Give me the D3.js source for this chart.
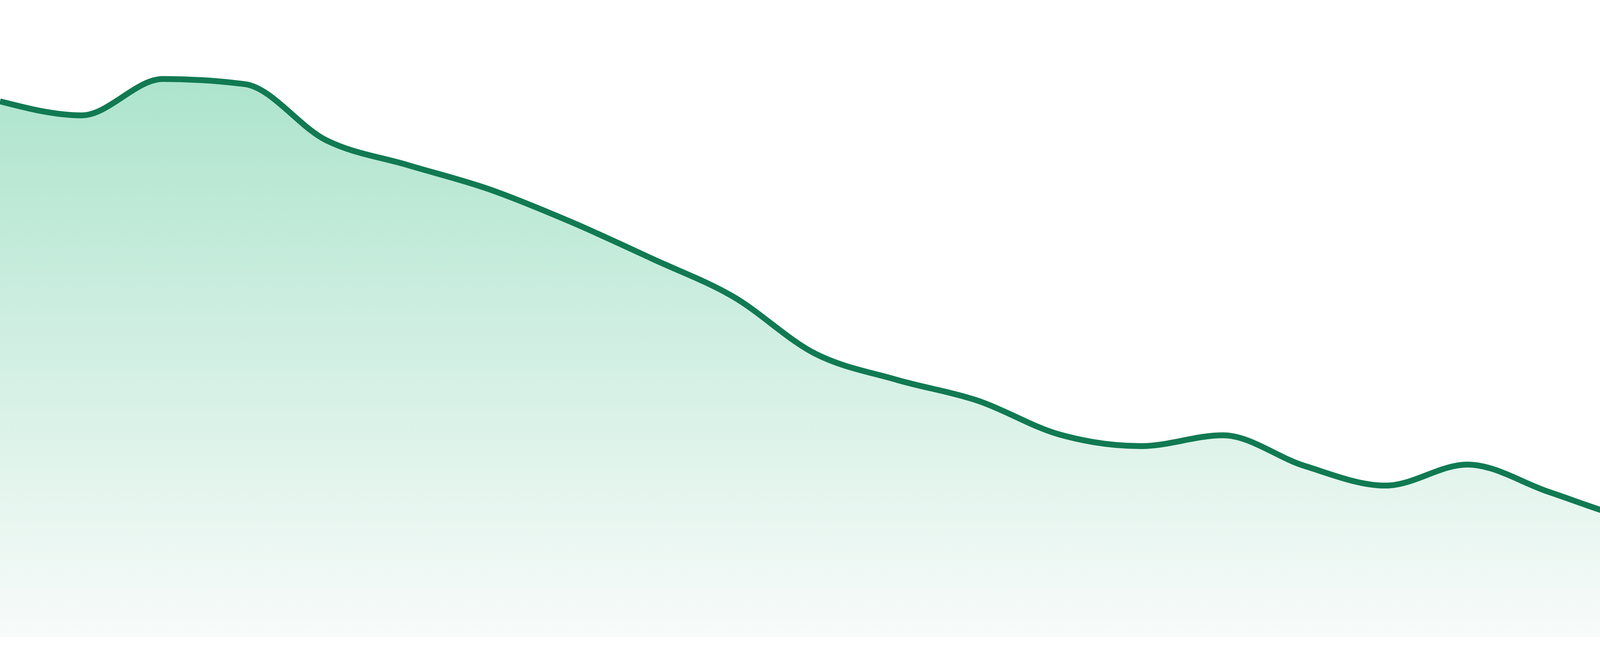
<!DOCTYPE html>
<html>
<head>
    <meta http-equiv="Content-Type" content="text/html;charset=utf-8">
    <title>Area trend</title>
    <script type="text/javascript" src="https://d3js.org/d3.v7.min.js"></script>
    <style>
        html, body {
            margin: 0;
            padding: 0;
            background: #ffffff;
            overflow: hidden;
        }

        path.line {
            fill: none;
            stroke: #117a52;
            stroke-width: 15px;
            stroke-linejoin: round;
        }
    </style>
</head>
<body>

<script type="text/javascript">

    // one point per period, left to right
    var periods = ["01", "02", "03", "04", "05", "06", "07", "08", "09", "10", "11", "12",
                   "13", "14", "15", "16", "17", "18", "19", "20", "21", "22", "23", "24"];

    var values = [84.1, 81.9, 87.6, 86.8, 78.0, 74.1, 70.3, 65.2, 59.4, 53.4, 44.5, 40.4,
                  37.1, 31.8, 30.0, 31.7, 26.9, 23.8, 27.1, 22.8, 18.5, 15.7, 17.5, 13.6];

    var width = 4800,
        height = 1680,
        bottomGap = 48;   // white strip under the filled area

    var rows = periods.map(function(p, i) { return {period: p, value: values[i]}; });

    var x = d3.scalePoint()
        .domain(periods)
        .range([0, width]);

    var y = d3.scaleLinear()
        .domain([0, 100])
        .range([height - bottomGap, 0]);

    var svg = d3.select("body").append("svg")
        .attr("width", width)
        .attr("height", height);

    // vertical fade under the line
    var grad = svg.append("defs").append("linearGradient")
        .attr("id", "fade")
        .attr("x1", 0).attr("y1", 0)
        .attr("x2", 0).attr("y2", 1);
    grad.append("stop").attr("offset", "0%").attr("stop-color", "#ade4cd");
    grad.append("stop").attr("offset", "100%").attr("stop-color", "#f8fbfa");

    var area = d3.area()
        .x(function(d) { return x(d.period); })
        .y0(y(0))
        .y1(function(d) { return y(d.value); })
        .curve(d3.curveMonotoneX);

    var line = d3.line()
        .x(function(d) { return x(d.period); })
        .y(function(d) { return y(d.value); })
        .curve(d3.curveMonotoneX);

    svg.append("path")
        .datum(rows)
        .attr("class", "area")
        .attr("d", area)
        .style("fill", "url(#fade)");

    svg.append("path")
        .datum(rows)
        .attr("class", "line")
        .attr("d", line);

</script>
</body>
</html>
